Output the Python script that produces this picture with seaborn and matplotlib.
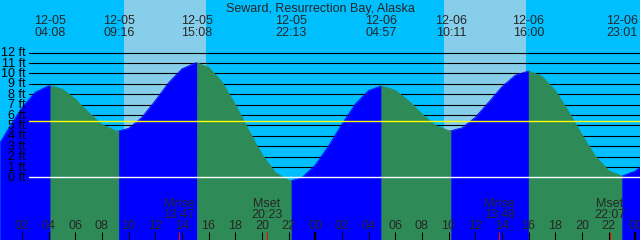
import numpy as np
import pandas as pd
import matplotlib
matplotlib.use("Agg")
import matplotlib.pyplot as plt
import seaborn as sns

# ---------------- data ----------------
title = "Seward, Resurrection Bay, Alaska"
start_hour = 0.36            # left edge of chart, hours after 12-05 00:00
span_hours = 48.0

# tide extremes
ext_dates = ["12-05", "12-05", "12-05", "12-05", "12-06", "12-06", "12-06", "12-06"]
ext_times = ["04:08", "09:16", "15:08", "22:13", "04:57", "10:11", "16:00", "23:01"]
ext_heights = [8.8, 4.45, 11.0, -0.33, 8.78, 4.48, 10.22, 0.12]
first_phase_rising = True    # tide is rising at the left edge

# tide height (ft) read at every whole hour 1..48 (hours after 12-05 00:00)
hourly_hours = list(range(1, 49))
hourly_ft = [4.68, 6.69, 8.17, 8.79, 8.50, 7.53, 6.23, 5.07, 4.48, 4.70,
             5.76, 7.37, 9.09, 10.42, 10.99, 10.59, 9.17, 7.00, 4.52, 2.20,
             0.47, -0.30, -0.03, 1.16, 3.00, 5.10, 7.02, 8.34, 8.78, 8.37,
             7.35, 6.08, 5.00, 4.49, 4.75, 5.76, 7.21, 8.70, 9.81, 10.22,
             9.72, 8.33, 6.31, 4.07, 2.04, 0.64, 0.12, 0.59]
edge_left_ft = 3.30
edge_right_ft = 0.98

# sun and moon
day_sunrise = ["12-05 09:40", "12-06 09:40"]
day_sunset = ["12-05 15:47", "12-06 15:49"]
moon_labels = ["Mrise", "Mset", "Mrise", "Mset"]
moon_times = ["12-05 13:47", "12-05 20:23", "12-06 13:48", "12-06 22:07"]

gauge_levels = list(range(0, 13))
mean_sea_level = 5.46

# ---------------- helpers ----------------
def to_hours(date, hm):
    day = {"12-05": 0, "12-06": 24}[date]
    h, m = hm.split(":")
    return day + int(h) + int(m) / 60.0

def stamp_hours(s):
    d, t = s.split()
    return to_hours(d, t)

ext_hours = [to_hours(d, t) for d, t in zip(ext_dates, ext_times)]
end_hour = start_hour + span_hours

# combined series
pts = {start_hour: edge_left_ft, end_hour: edge_right_ft}
for hh, v in zip(hourly_hours, hourly_ft):
    pts[float(hh)] = v
for hh, v in zip(ext_hours, ext_heights):
    pts[round(hh, 4)] = v
tt = np.array(sorted(pts))
hh_arr = np.array([pts[k] for k in tt])

# build segments between extremes
bounds = [start_hour] + ext_hours + [end_hour]
rows = []
for i in range(len(bounds) - 1):
    a, b = bounds[i], bounds[i + 1]
    rising = (i % 2 == 0) == first_phase_rising
    mask = (tt >= a - 1e-3) & (tt <= b + 1e-3)
    for t_, h_ in zip(tt[mask], hh_arr[mask]):
        rows.append({"t": t_, "h": h_, "seg": i,
                     "phase": "rising" if rising else "falling"})
df = pd.DataFrame(rows)

# ---------------- drawing ----------------
sns.set_style("white")
plt.rcParams["font.family"] = ["Liberation Sans", "DejaVu Sans"]
plt.rcParams["font.size"] = 9

NIGHT = "#00BFFF"
DAY = "#87CEEB"
FLOOD = "#0000FF"
EBB = "#2E8B57"

fig = plt.figure(figsize=(6.4, 2.4), dpi=100)
ax = fig.add_axes([0, 0, 1, 1])
ax.set_facecolor(NIGHT)

ft_px = 10.4
zero_px = 177.3
ylo = -(240 - zero_px) / ft_px
yhi = zero_px / ft_px

for sr, ss in zip(day_sunrise, day_sunset):
    ax.axvspan(stamp_hours(sr), stamp_hours(ss), color=DAY, lw=0, zorder=0)

line_x0 = 29 / 640
for lv in gauge_levels[1:]:
    ax.axhline(lv, xmin=line_x0, xmax=1, color="black", lw=0.8, zorder=1)

for seg, g in df.groupby("seg"):
    col = FLOOD if g["phase"].iloc[0] == "rising" else EBB
    ax.fill_between(g["t"], g["h"], ylo - 2, color=col, lw=0.3,
                    edgecolor=col, zorder=2)

sns.lineplot(data=df, x="t", y="h", hue="phase", units="seg", estimator=None,
             palette={"rising": FLOOD, "falling": EBB}, legend=False,
             lw=0.6, ax=ax, zorder=2.5)

ax.axhline(0, xmin=line_x0, xmax=1, color="white", lw=1.0, zorder=3)
ax.axhline(mean_sea_level, xmin=line_x0, xmax=1, color="yellow", lw=1.0, zorder=3)

ytr = ax.get_yaxis_transform()
for lv in gauge_levels:
    ax.text(26 / 640, lv - 0.36, f"{lv} ft", transform=ytr, ha="right",
            va="baseline", color="black", zorder=4)

xtr = ax.get_xaxis_transform()
ax.text(0.5, 1 - 12 / 240, title, transform=ax.transAxes, ha="center",
        va="baseline", zorder=5)
for d, t, hx in zip(ext_dates, ext_times, ext_hours):
    ax.text(hx, 1 - 24 / 240, d, transform=xtr, ha="center", va="baseline", zorder=5)
    ax.text(hx, 1 - 36 / 240, t, transform=xtr, ha="center", va="baseline", zorder=5)

# hour ticks
tick_top = 8.3 / 240
hours_even = list(range(2, 49, 2))
for hx in hours_even:
    midnight = hx % 24 == 0
    ax.vlines(hx, 0, tick_top, transform=xtr, color="black",
              lw=1.7 if midnight else 0.75, zorder=5)
    ax.text(hx, 1 - 229.3 / 240, f"{hx % 24:02d}", transform=xtr,
            ha="center", va="baseline", zorder=5)

for lab, ms in zip(moon_labels, moon_times):
    mh = stamp_hours(ms)
    ax.vlines(mh, 0, tick_top, transform=xtr, color="red", lw=0.75, zorder=5)
    ax.text(mh, 1 - 206.7 / 240, lab, transform=xtr, ha="center",
            va="baseline", zorder=5)
    ax.text(mh, 1 - 218.3 / 240, ms.split()[1], transform=xtr, ha="center",
            va="baseline", zorder=5)

ax.set_xlim(start_hour, end_hour)
ax.set_ylim(ylo, yhi)
ax.set_xlabel("")
ax.set_ylabel("")
ax.set_xticks([])
ax.set_yticks([])
for s in ax.spines.values():
    s.set_visible(False)

fig.savefig("out.png", dpi=100, facecolor=NIGHT)
